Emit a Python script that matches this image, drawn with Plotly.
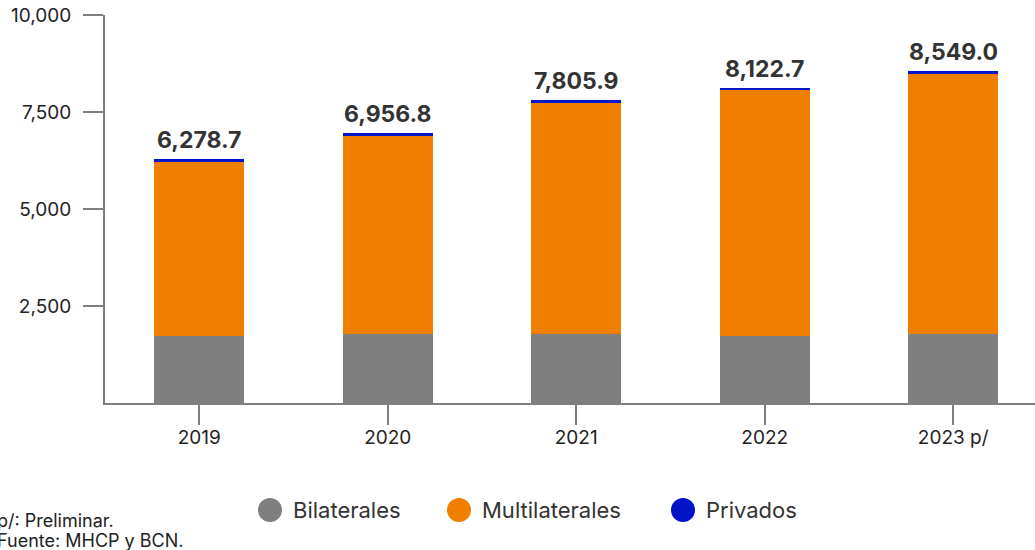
import plotly.graph_objects as go

years = ["2019", "2020", "2021", "2022", "2023 p/"]
bilaterales = [1730, 1780, 1780, 1720, 1780]
multilaterales = [4499, 5127, 5976, 6353, 6719]
privados = [50, 50, 50, 50, 50]
totales = [6278.7, 6956.8, 7805.9, 8122.7, 8549.0]
total_labels = ["6,278.7", "6,956.8", "7,805.9", "8,122.7", "8,549.0"]

series_names = ["Bilaterales", "Multilaterales", "Privados"]
colors = ["#7f7f7f", "#f07f00", "#0014c8"]

FONT = "Inter"
W, H = 1035, 550
ML, MR, MT, MB = 105, 0, 15, 147

fig = go.Figure()
for name, vals, col in zip(series_names, [bilaterales, multilaterales, privados], colors):
    fig.add_trace(go.Bar(x=list(range(len(years))), y=vals, name=name, marker_color=col,
                         marker_line_width=0, width=0.477, showlegend=False))

for i, (t, lab) in enumerate(zip(totales, total_labels)):
    fig.add_annotation(x=i, y=t, text=lab, showarrow=False, yanchor="bottom", xanchor="center",
                       yshift=3, font=dict(family=FONT, size=23, color="#333333", weight="bold"))

# manual legend
pw = W - ML - MR
def px2paper_x(px):
    return (px - ML) / pw
ph = H - MT - MB
def px2paper_y(py):
    return (H - MB - py) / ph

leg_x = [270, 459, 683]
for lx, name, col in zip(leg_x, series_names, colors):
    fig.add_shape(type="circle", xref="paper", yref="paper",
                  x0=px2paper_x(lx - 12), x1=px2paper_x(lx + 12),
                  y0=px2paper_y(510 + 12), y1=px2paper_y(510 - 12),
                  fillcolor=col, line_width=0)
    fig.add_annotation(xref="paper", yref="paper", x=px2paper_x(lx + 21), y=px2paper_y(510),
                       xanchor="left", yanchor="middle", text=name, showarrow=False,
                       font=dict(family=FONT, size=22, color="#333333"))

fig.add_annotation(xref="paper", yref="paper", x=px2paper_x(-5), y=px2paper_y(520),
                   xanchor="left", yanchor="middle", text="p/: Preliminar.", showarrow=False,
                   font=dict(family=FONT, size=18, color="#222222"))
fig.add_annotation(xref="paper", yref="paper", x=px2paper_x(-5), y=px2paper_y(540),
                   xanchor="left", yanchor="middle", text="Fuente: MHCP y BCN.", showarrow=False,
                   font=dict(family=FONT, size=18, color="#222222"))

fig.update_layout(
    width=W, height=H, barmode="stack", bargap=0.5,
    margin=dict(l=ML, r=MR, t=MT, b=MB, autoexpand=False),
    plot_bgcolor="white", paper_bgcolor="white",
    font=dict(family=FONT, color="#222222"),
    xaxis=dict(range=[-0.5, 4.434], tickmode="array", tickvals=list(range(len(years))), ticktext=years,
               showgrid=False, zeroline=False, showline=True, linecolor="#7f7f7f", linewidth=2,
               ticks="outside", ticklen=20, tickwidth=2, tickcolor="#7f7f7f",
               ticklabelstandoff=-4,
               tickfont=dict(family=FONT, size=19, color="#222222")),
    yaxis=dict(range=[0, 10000], tickmode="array", tickvals=[2500, 5000, 7500, 10000],
               ticktext=["2,500", "5,000", "7,500", "10,000"],
               showgrid=False, zeroline=False, showline=True, linecolor="#7f7f7f", linewidth=2,
               ticks="outside", ticklen=20, tickwidth=2, tickcolor="#7f7f7f",
               ticklabelstandoff=8,
               tickfont=dict(family=FONT, size=19, color="#222222")),
)

fig.write_html("out.html", config={"displayModeBar": False},
               post_script="document.body.style.margin='0';document.body.style.overflow='hidden';")
